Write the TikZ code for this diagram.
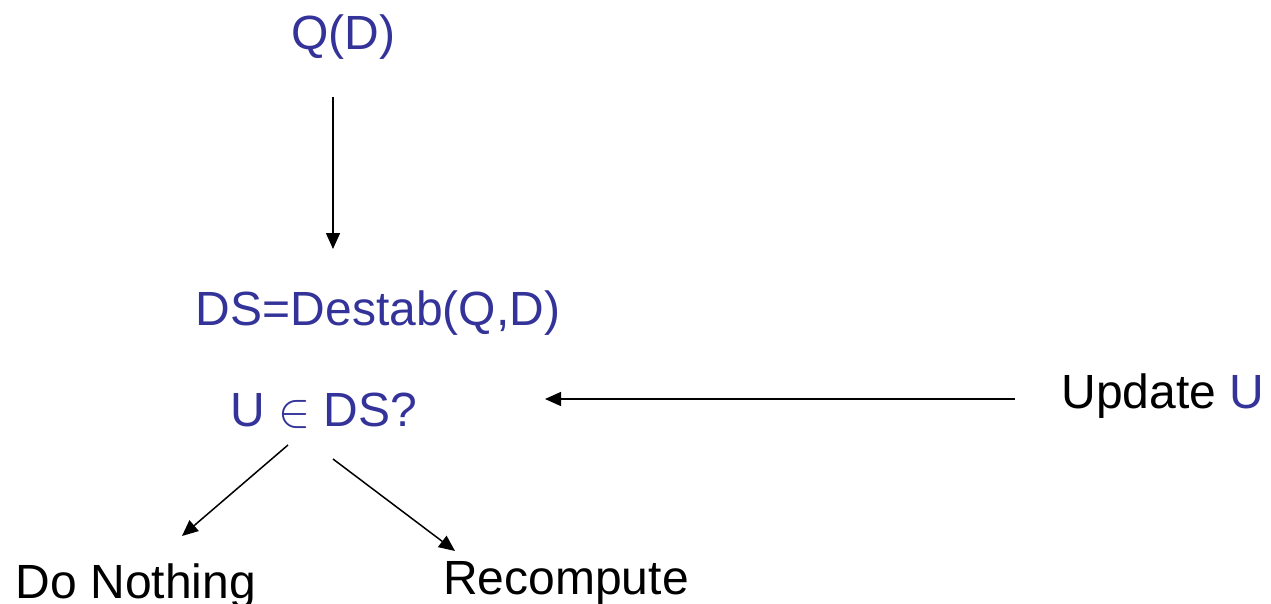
\documentclass[tikz,border=0pt]{standalone}
\usepackage{fontspec}
\usepackage{unicode-math}
\setmainfont{Liberation Sans}
\setmathfont{Latin Modern Math}
\usetikzlibrary{arrows.meta}
\definecolor{dsblue}{RGB}{51,51,153}
\begin{document}
\begin{tikzpicture}[x=1pt,y=-1pt,
  lbl/.style={inner sep=0pt,anchor=base,font=\fontsize{48}{58}\selectfont},
  blu/.style={lbl,text=dsblue},
  arr/.style={line width=1.5pt,-{Triangle[length=16pt,width=14pt]}}]
\useasboundingbox (0,0) rectangle (1271,604);
\node[blu] (qd) at (343,50) {Q(D)};
\node[blu] (ds) at (378,325) {DS=Destab(Q,D)};
\node[blu] (ud) at (324,426) {U $\in$ DS?};
\node[lbl] (up) at (1163,408) {Update \textcolor{dsblue}{U}};
\node[lbl] (dn) at (136,598) {Do Nothing};
\node[lbl] (rc) at (566,594) {Recompute};
\coordinate (a1) at (333,97);
\coordinate (a2) at (333,249);
\coordinate (b1) at (1015,399);
\coordinate (b2) at (545,399);
\coordinate (c1) at (288,445);
\coordinate (c2) at (182,536);
\coordinate (d1) at (333,459);
\coordinate (d2) at (455,551);
\draw[arr] (a1) -- (a2);
\draw[arr] (b1) -- (b2);
\draw[arr] (c1) -- (c2);
\draw[arr] (d1) -- (d2);
\end{tikzpicture}
\end{document}
